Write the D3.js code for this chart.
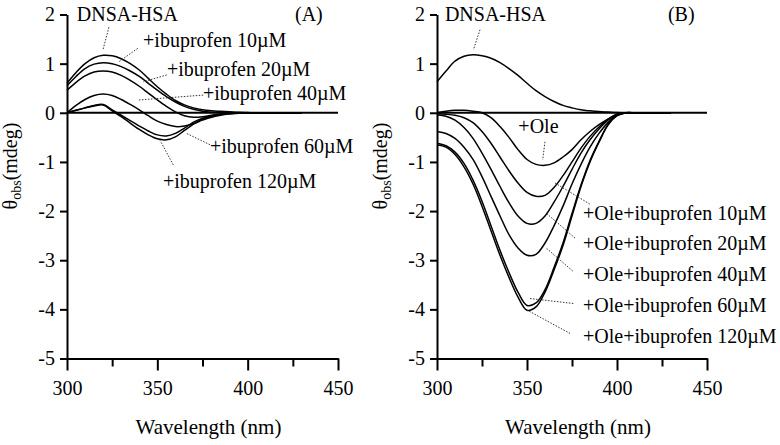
<!DOCTYPE html>
<html><head><meta charset="utf-8">
<script src="https://cdn.jsdelivr.net/npm/d3@7/dist/d3.min.js"></script>
<style>
body{margin:0;background:#fff}
svg text{font-family:"Liberation Serif","Times New Roman",Times,serif !important;fill:#000}
</style>
</head><body>
<svg id="chart" width="780" height="445"></svg>
<script>
// ---------------- DATA ----------------
const wavelengths = [300,305,310,315,320,325,330,335,340,345,350,355,360,365,370,375,380,385,390,395,400,405,410,415,420,425,430];

// Panel A
const dnsaHsaA = [0.60,0.82,1.00,1.12,1.17,1.16,1.10,1.00,0.87,0.70,0.53,0.38,0.25,0.16,0.10,0.06,0.04,0.03,0.02,0.01,0.005,0,0,0,0,0,0];
const ibu10A   = [0.55,0.74,0.90,0.99,1.02,1.00,0.94,0.85,0.74,0.60,0.46,0.33,0.22,0.13,0.07,0.03,0.01,0.005,0,0,0,0,0,0,0,0,0];
const ibu20A   = [0.46,0.62,0.75,0.83,0.85,0.83,0.76,0.66,0.54,0.40,0.26,0.13,0.02,-0.06,-0.09,-0.08,-0.05,-0.03,-0.015,-0.005,0,0,0,0,0,0,0];
const ibu40A   = [0.00,0.15,0.27,0.35,0.38,0.35,0.27,0.17,0.06,-0.06,-0.17,-0.24,-0.28,-0.27,-0.22,-0.15,-0.09,-0.05,-0.02,-0.01,0,0,0,0,0,0,0];
const ibu60A   = [0.00,0.05,0.10,0.15,0.17,0.06,-0.05,-0.16,-0.27,-0.37,-0.45,-0.47,-0.42,-0.31,-0.19,-0.11,-0.06,-0.03,-0.015,-0.005,0,0,0,0,0,0,0];
const ibu120A  = [0.00,0.05,0.10,0.14,0.16,0.04,-0.08,-0.21,-0.34,-0.45,-0.53,-0.55,-0.49,-0.36,-0.23,-0.13,-0.07,-0.035,-0.015,-0.005,0,0,0,0,0,0,0];

// Panel B
const dnsaHsaB = [0.63,0.85,1.05,1.15,1.18,1.16,1.11,1.02,0.90,0.76,0.60,0.45,0.33,0.23,0.15,0.10,0.06,0.04,0.025,0.015,0.005,0,0,0,0,0,0];
const oleB     = [0.00,0.03,0.05,0.05,0.03,0.00,-0.10,-0.28,-0.50,-0.75,-0.95,-1.05,-1.07,-1.02,-0.90,-0.75,-0.55,-0.38,-0.24,-0.13,-0.03,0,0,0,0,0,0];
const oleIbu10B  = [-0.02,-0.03,-0.05,-0.10,-0.20,-0.38,-0.62,-0.90,-1.18,-1.43,-1.62,-1.70,-1.68,-1.52,-1.28,-1.00,-0.72,-0.48,-0.29,-0.13,-0.03,0,0,0,0,0,0];
const oleIbu20B  = [-0.04,-0.07,-0.15,-0.30,-0.52,-0.82,-1.15,-1.50,-1.83,-2.10,-2.25,-2.25,-2.10,-1.82,-1.50,-1.15,-0.82,-0.55,-0.33,-0.15,-0.04,0,0,0,0,0,0];
const oleIbu40B  = [-0.38,-0.42,-0.52,-0.70,-0.95,-1.30,-1.70,-2.10,-2.48,-2.75,-2.90,-2.88,-2.65,-2.30,-1.90,-1.45,-1.05,-0.70,-0.42,-0.20,-0.05,0,0,0,0,0,0];
const oleIbu60B  = [-0.62,-0.67,-0.80,-1.03,-1.37,-1.80,-2.30,-2.80,-3.25,-3.65,-3.92,-3.87,-3.60,-3.15,-2.65,-2.05,-1.47,-0.97,-0.58,-0.24,-0.06,0,0,0,0,0,0];
const oleIbu120B = [-0.65,-0.70,-0.85,-1.10,-1.45,-1.90,-2.40,-2.90,-3.35,-3.75,-4.02,-3.95,-3.65,-3.20,-2.70,-2.10,-1.50,-1.00,-0.60,-0.25,-0.06,0,0,0,0,0,0];

const xTicksMajor = [300,350,400,450];
const xTicksMinor = [325,375,425];
const yTicks = [-5,-4,-3,-2,-1,0,1,2];

// annotation layout (in data units): text anchor and leader line
const annotA = [
  {t:"DNSA-HSA", x:305.4, y:1.87, l:[323.2,1.74,319.9,1.28]},
  {t:"+ibuprofen 10\u00B5M", x:342.1, y:1.34, l:[339.1,1.31,328.8,1.04]},
  {t:"+ibuprofen 20\u00B5M", x:355.3, y:0.75, l:[355.2,0.77,342.2,0.63]},
  {t:"+ibuprofen 40\u00B5M", x:375.3, y:0.26, l:[375.4,0.36,339.5,0.26]},
  {t:"+ibuprofen 60\u00B5M", x:379.1, y:-0.82, l:[379.1,-0.65,366.2,-0.42]},
  {t:"+ibuprofen 120\u00B5M", x:353.1, y:-1.53, l:[358.8,-1.06,351.5,-0.56]},
  {t:"(A)", x:426.2, y:1.87, l:null}
];
const annotB = [
  {t:"DNSA-HSA", x:304.4, y:1.87, l:[323.9,1.69,320.2,1.28]},
  {t:"(B)", x:428.3, y:1.87, l:null},
  {t:"+Ole", x:345.2, y:-0.41, l:[360.0,-0.59,358.7,-0.96]},
  {t:"+Ole+ibuprofen 10\u00B5M", x:381.1, y:-2.18, l:[365.6,-1.43,385.0,-1.86]},
  {t:"+Ole+ibuprofen 20\u00B5M", x:381.1, y:-2.79, l:[360.9,-2.05,376.7,-2.55]},
  {t:"+Ole+ibuprofen 40\u00B5M", x:381.1, y:-3.42, l:[360.9,-2.76,375.7,-3.23]},
  {t:"+Ole+ibuprofen 60\u00B5M", x:381.1, y:-4.05, l:[351.7,-3.78,375.7,-3.88]},
  {t:"+Ole+ibuprofen 120\u00B5M", x:381.1, y:-4.685, l:[349.8,-4.01,373.9,-4.49]}
];

const panels = [
  {x0:67, x1:338, series:[dnsaHsaA,ibu10A,ibu20A,ibu40A,ibu60A,ibu120A], annot:annotA},
  {x0:437, x1:707, series:[dnsaHsaB,oleB,oleIbu10B,oleIbu20B,oleIbu40B,oleIbu60B,oleIbu120B], annot:annotB}
];

// ---------------- DRAW ----------------
const FONT = '"Liberation Serif","Times New Roman",Times,serif';
const svg = d3.select("#chart");
const yTop = 14.5, yBot = 358.5;

panels.forEach(p => {
  const x = d3.scaleLinear().domain([300,450]).range([p.x0,p.x1]);
  const y = d3.scaleLinear().domain([-5,2]).range([yBot,yTop]);
  const g = svg.append("g");

  const ya = g.append("g").attr("transform",`translate(${p.x0},0)`)
    .call(d3.axisLeft(y).tickValues(yTicks).tickSize(7).tickSizeOuter(0).tickPadding(5).tickFormat(d=>String(d)));
  const xa = g.append("g").attr("transform",`translate(0,${yBot})`)
    .call(d3.axisBottom(x).tickValues(xTicksMajor).tickSize(12).tickSizeOuter(0).tickPadding(10).tickFormat(d=>String(d)));
  const xm = g.append("g").attr("transform",`translate(0,${yBot})`)
    .call(d3.axisBottom(x).tickValues(xTicksMinor).tickSize(8).tickSizeOuter(0).tickFormat(""));
  [ya,xa,xm].forEach(a=>{
    a.attr("font-family",FONT).attr("font-size",20);
    a.selectAll("path,line").attr("stroke","#000").attr("stroke-width",2);
    a.selectAll("text").attr("font-family",FONT).style("font-family",FONT).style("font-size","20px").attr("fill","#000");
  });

  g.append("line").attr("x1",x(300)).attr("x2",x(450)).attr("y1",y(0)).attr("y2",y(0))
    .attr("stroke","#000").attr("stroke-width",2);

  const line = d3.line().x((d,i)=>x(wavelengths[i])).y(d=>y(d)).curve(d3.curveCatmullRom.alpha(0.5));
  p.series.forEach(s=>{
    g.append("path").attr("d",line(s)).attr("fill","none").attr("stroke","#000").attr("stroke-width",1.5);
  });

  p.annot.forEach(a=>{
    if(a.l){
      g.append("line").attr("x1",x(a.l[0])).attr("y1",y(a.l[1])).attr("x2",x(a.l[2])).attr("y2",y(a.l[3]))
        .attr("stroke","#333").attr("stroke-width",1).attr("stroke-dasharray","1.5,1.5");
    }
    g.append("text").attr("x",x(a.x)).attr("y",y(a.y)).style("font-family",FONT).style("font-size","20px").text(a.t);
  });

  const yl = g.append("text").attr("transform",`translate(${p.x0-50},166) rotate(-90)`)
    .attr("text-anchor","middle").style("font-family",FONT).style("font-size","20px");
  yl.append("tspan").text("\u03B8");
  yl.append("tspan").attr("dy",4).style("font-size","14px").text("obs");
  yl.append("tspan").attr("dy",-4).text("(mdeg)");

  g.append("text").attr("x",(p.x0+p.x1)/2+6).attr("y",434).attr("text-anchor","middle")
    .style("font-family",FONT).style("font-size","21px").text("Wavelength (nm)");
});
</script>
</body></html>
